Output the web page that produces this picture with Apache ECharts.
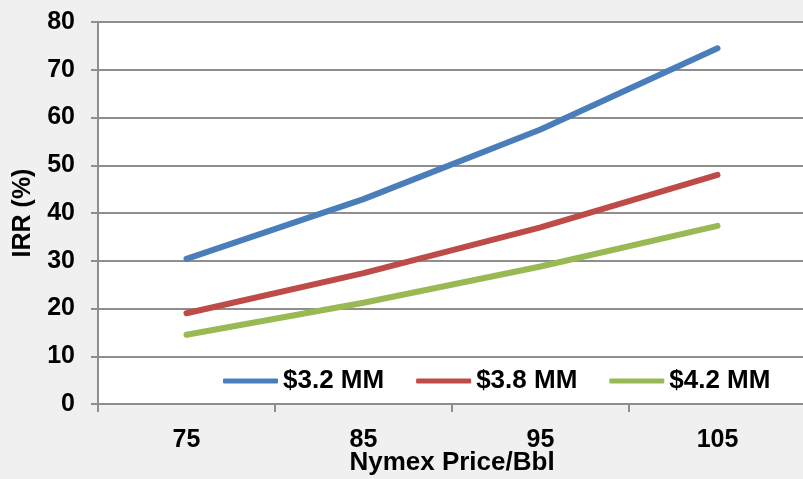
<!DOCTYPE html>
<html>
<head>
<meta charset="utf-8">
<script src="https://cdn.jsdelivr.net/npm/echarts@6/dist/echarts.min.js"></script>
<style>
  html, body { margin: 0; padding: 0; background: #f0f0f0; }
  #chart { width: 803px; height: 479px; }
</style>
</head>
<body>
<div id="chart"></div>
<script>
// Oil price scenarios ($/Bbl) and IRR (%) per well cost case
const prices = ['75', '85', '95', '105'];
const cost32 = [30.4, 42.9, 57.5, 74.5];
const cost38 = [19.0, 27.4, 37.0, 48.0];
const cost42 = [14.5, 21.2, 28.8, 37.3];
const seriesNames = ['$3.2 MM', '$3.8 MM', '$4.2 MM'];
const seriesColors = ['#4a7ebb', '#be4b48', '#98b954'];

const FONT = '"Liberation Sans", Arial, sans-serif';
const GRID_GRAY = '#8e8e8e';

const chart = echarts.init(document.getElementById('chart'));

function lineSeries(i, data) {
  return {
    name: seriesNames[i],
    type: 'line',
    data: data,
    symbol: 'none',
    smooth: false,
    lineStyle: { width: 6, color: seriesColors[i], cap: 'round' },
    itemStyle: { color: seriesColors[i] },
    z: 3 + i
  };
}

chart.setOption({
  backgroundColor: '#f0f0f0',
  animation: false,
  grid: {
    left: 98, right: -3, top: 22, bottom: 75,
    outerBoundsMode: 'none',
    containLabel: false,
    show: true, backgroundColor: '#ffffff', borderWidth: 0
  },
  legend: {
    left: 223, top: 368,
    padding: 0,
    itemWidth: 55, itemHeight: 5,
    itemGap: 32,
    icon: 'roundRect',
    textStyle: { fontFamily: FONT, fontWeight: 'bold', fontSize: 26, color: '#000' },
    data: seriesNames
  },
  xAxis: {
    type: 'category',
    data: prices,
    boundaryGap: true,
    name: 'Nymex Price/Bbl',
    nameLocation: 'middle',
    nameGap: 46,
    nameMoveOverlap: false,
    nameTextStyle: { fontFamily: FONT, fontWeight: 'bold', fontSize: 26, color: '#000', verticalAlign: 'top' },
    axisLine: { lineStyle: { color: GRID_GRAY, width: 2 } },
    axisTick: { show: true, length: 8, alignWithLabel: false, lineStyle: { color: GRID_GRAY, width: 2 } },
    axisLabel: { fontFamily: FONT, fontWeight: 'bold', fontSize: 25, color: '#000', margin: 24 },
    splitLine: { show: false }
  },
  yAxis: {
    type: 'value',
    min: 0, max: 80, interval: 10,
    name: 'IRR (%)',
    nameLocation: 'middle',
    nameGap: 62,
    nameMoveOverlap: false,
    nameRotate: 90,
    nameTextStyle: { fontFamily: FONT, fontWeight: 'bold', fontSize: 25, color: '#000' },
    axisLine: { show: true, lineStyle: { color: GRID_GRAY, width: 2 } },
    axisTick: { show: true, length: 7, lineStyle: { color: GRID_GRAY, width: 2 } },
    axisLabel: { fontFamily: FONT, fontWeight: 'bold', fontSize: 25, color: '#000', margin: 23 },
    splitLine: { show: true, lineStyle: { color: GRID_GRAY, width: 2 } }
  },
  series: [
    lineSeries(0, cost32),
    lineSeries(1, cost38),
    lineSeries(2, cost42)
  ]
});
</script>
</body>
</html>
